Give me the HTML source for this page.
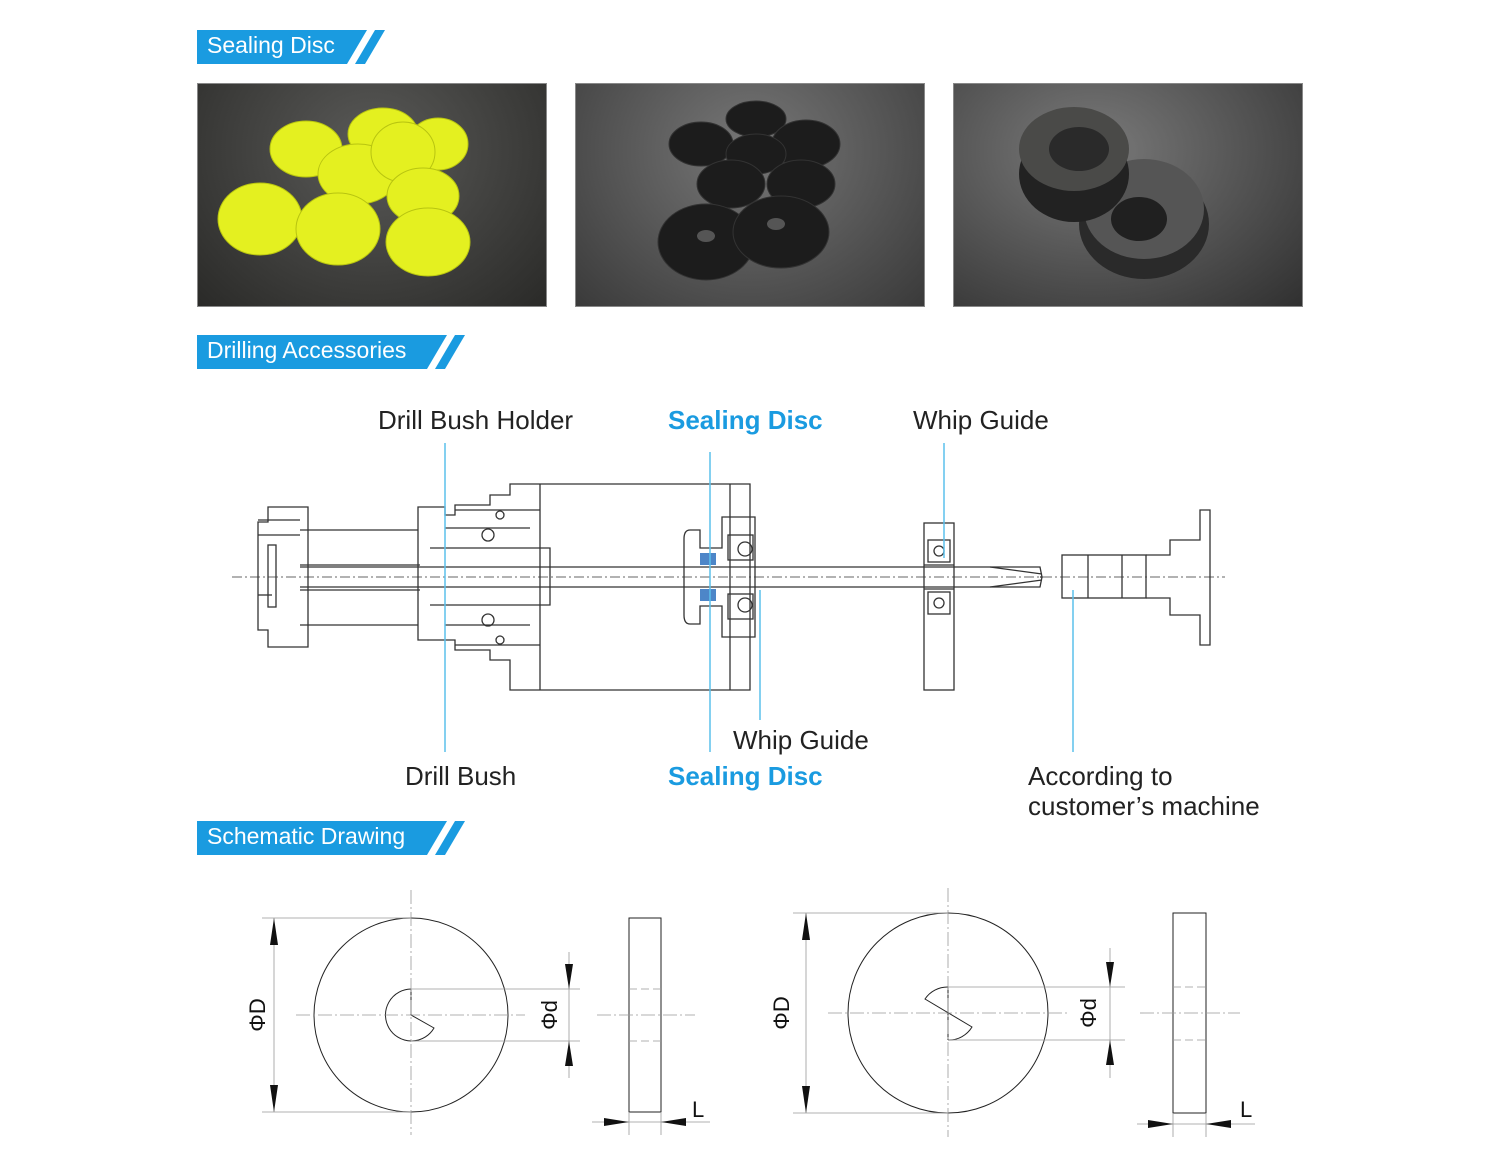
<!DOCTYPE html>
<html><head><meta charset="utf-8"><style>
body{margin:0;width:1500px;height:1168px;background:#fff;position:relative;overflow:hidden;font-family:"Liberation Sans",sans-serif}
.hdr{position:absolute;left:197px;height:34px}
.hdr span{position:absolute;left:10px;top:2px;color:#fff;font-size:23px;white-space:nowrap}
.ph{position:absolute;top:83px;width:348px;height:222px;border:1px solid #888}
.lb{position:absolute;font-size:26px;color:#222;white-space:nowrap;line-height:30px}
.bl{color:#1a9be0;font-weight:bold}
</style></head><body>

<div class="hdr" style="top:30px"><svg width="200" height="34"><polygon points="0,0 170,0 150,34 0,34" fill="#1a9be0"/><polygon points="178,0 188,0 168,34 158,34" fill="#1a9be0"/></svg><span>Sealing Disc</span></div>
<div class="hdr" style="top:335px"><svg width="280" height="34"><polygon points="0,0 250,0 230,34 0,34" fill="#1a9be0"/><polygon points="258,0 268,0 248,34 238,34" fill="#1a9be0"/></svg><span>Drilling Accessories</span></div>
<div class="hdr" style="top:821px"><svg width="280" height="34"><polygon points="0,0 250,0 230,34 0,34" fill="#1a9be0"/><polygon points="258,0 268,0 248,34 238,34" fill="#1a9be0"/></svg><span>Schematic Drawing</span></div>

<div class="ph" style="left:197px;background:radial-gradient(ellipse at 50% 30%,#5a5a58,#2a2a28)">
<svg width="348" height="222"><g fill="#e4f020" stroke="#b8c410">
<ellipse cx="108" cy="65" rx="36" ry="28"/><ellipse cx="185" cy="50" rx="35" ry="26"/><ellipse cx="240" cy="60" rx="30" ry="26"/><ellipse cx="160" cy="90" rx="40" ry="30"/><ellipse cx="205" cy="68" rx="32" ry="30"/><ellipse cx="225" cy="112" rx="36" ry="28"/><ellipse cx="62" cy="135" rx="42" ry="36"/><ellipse cx="140" cy="145" rx="42" ry="36"/><ellipse cx="230" cy="158" rx="42" ry="34"/></g></svg></div>
<div class="ph" style="left:575px;background:radial-gradient(ellipse at 50% 30%,#777,#3a3a3a)">
<svg width="348" height="222"><g fill="#1c1c1c" stroke="#333">
<ellipse cx="180" cy="35" rx="30" ry="18"/><ellipse cx="125" cy="60" rx="32" ry="22"/><ellipse cx="230" cy="60" rx="34" ry="24"/><ellipse cx="180" cy="70" rx="30" ry="20"/><ellipse cx="155" cy="100" rx="34" ry="24"/><ellipse cx="225" cy="100" rx="34" ry="24"/><ellipse cx="130" cy="158" rx="48" ry="38"/><ellipse cx="205" cy="148" rx="48" ry="36"/></g>
<g fill="#555"><ellipse cx="130" cy="152" rx="9" ry="6"/><ellipse cx="200" cy="140" rx="9" ry="6"/></g></svg></div>
<div class="ph" style="left:953px;background:radial-gradient(ellipse at 40% 30%,#7a7a7a,#303030)">
<svg width="348" height="222"><ellipse cx="190" cy="140" rx="65" ry="55" fill="#2a2a2a"/><ellipse cx="190" cy="125" rx="60" ry="50" fill="#555"/><ellipse cx="185" cy="135" rx="28" ry="22" fill="#202020"/><ellipse cx="120" cy="90" rx="55" ry="48" fill="#222"/><ellipse cx="120" cy="65" rx="55" ry="42" fill="#4a4a48"/><ellipse cx="125" cy="65" rx="30" ry="22" fill="#2a2a2a"/></svg></div>

<svg style="position:absolute;left:0;top:0" width="1500" height="1168">
<g fill="none" stroke="#333" stroke-width="1.3">
<line x1="232" y1="577" x2="1225" y2="577" stroke-dasharray="10,3,2,3" stroke-width="0.8"/>
<!-- left flange -->
<path d="M268,507 H308 V647 H268 V630 H258 V522 H268 Z"/><rect x="268" y="545" width="8" height="62"/>
<line x1="258" y1="520" x2="300" y2="520"/><line x1="258" y1="535" x2="300" y2="535"/><line x1="258" y1="595" x2="272" y2="595"/>
<!-- tube -->
<path d="M300,530 H418 M300,625 H418 M300,565 H420 M300,590 H420"/>
<!-- holder -->
<path d="M418,507 H445 V515 H455 V505 H490 V495 H510 V484 H750 V690 H510 V660 H490 V650 H455 V640 H418 Z"/>
<line x1="540" y1="484" x2="540" y2="690"/><line x1="730" y1="484" x2="730" y2="690"/>
<path d="M430,548 H550 V605 H430 M445,528 H530 M445,625 H530 M455,510 H540 M455,645 H540"/>
<circle cx="488" cy="535" r="6"/><circle cx="488" cy="620" r="6"/><circle cx="500" cy="515" r="4"/><circle cx="500" cy="640" r="4"/>
<!-- disc unit -->
<path d="M690,530 H700 V548 H722 V517 H755 V637 H722 V606 H700 V624 H690 Q684,624 684,615 V539 Q684,530 690,530 Z"/>
<rect x="728" y="535" width="25" height="25"/><rect x="728" y="594" width="25" height="25"/><circle cx="745" cy="549" r="7"/><circle cx="745" cy="605" r="7"/>
<!-- shaft -->
<path d="M300,567 H1040 L1042,577 L1040,577 M300,587 H1040 L1042,577" /><line x1="990" y1="567" x2="1042" y2="574"/><line x1="990" y1="587" x2="1042" y2="580"/>
<!-- whip guide -->
<rect x="924" y="523" width="30" height="167"/><rect x="928" y="540" width="22" height="22"/><rect x="928" y="592" width="22" height="22"/><circle cx="939" cy="551" r="5"/><circle cx="939" cy="603" r="5"/>
<line x1="924" y1="565" x2="954" y2="565"/><line x1="924" y1="589" x2="954" y2="589"/>
<!-- right -->
<rect x="1062" y="555" width="84" height="43"/><line x1="1088" y1="555" x2="1088" y2="598"/><line x1="1122" y1="555" x2="1122" y2="598"/>
<path d="M1146,555 H1170 V540 H1200 V510 H1210 V645 H1200 V615 H1170 V598 H1146"/>
</g>
<rect x="700" y="553" width="16" height="12" fill="#4d86c8"/><rect x="700" y="589" width="16" height="12" fill="#4d86c8"/>
<g stroke="#5bc0ec" stroke-width="1.5">
<line x1="445" y1="443" x2="445" y2="752"/><line x1="710" y1="452" x2="710" y2="752"/><line x1="760" y1="590" x2="760" y2="720"/><line x1="944" y1="443" x2="944" y2="558"/><line x1="1073" y1="590" x2="1073" y2="752"/>
</g>

<!-- schematic left -->
<g fill="none" stroke="#222" stroke-width="1">
<circle cx="411" cy="1015" r="97"/>
<path d="M411,989 V1015 L434,1028 A26,26 0 1 1 411,989"/>
<rect x="629" y="918" width="32" height="194"/>
<circle cx="948" cy="1013" r="100"/>
<path d="M948,987 V1040 A27,27 0 0 0 972,1026 L948,1013 L925,1000 A27,27 0 0 1 948,987" stroke-width="0"/>
<path d="M948,1013 V1040 A27,27 0 0 0 972,1026 Z M948,1013 L925,999 A27,27 0 0 1 948,987 Z" stroke-width="0"/>
<path d="M948,1040 A27,27 0 0 0 972,1027 L925,999 A27,27 0 0 1 948,987 V1040"/>
<rect x="1173" y="913" width="33" height="200"/>
</g>
<g stroke="#999" stroke-width="0.8" fill="none">
<line x1="262" y1="918" x2="411" y2="918"/><line x1="262" y1="1112" x2="411" y2="1112"/><line x1="274" y1="918" x2="274" y2="1112"/>
<line x1="411" y1="890" x2="411" y2="1135" stroke-dasharray="14,3,2,3"/><line x1="296" y1="1015" x2="525" y2="1015" stroke-dasharray="14,3,2,3"/>
<line x1="411" y1="989" x2="580" y2="989"/><line x1="411" y1="1041" x2="580" y2="1041"/><line x1="569" y1="952" x2="569" y2="1078"/>
<line x1="597" y1="1015" x2="695" y2="1015" stroke-dasharray="14,3,2,3"/><line x1="629" y1="989" x2="661" y2="989" stroke-dasharray="8,4"/><line x1="629" y1="1041" x2="661" y2="1041" stroke-dasharray="8,4"/>
<line x1="629" y1="1112" x2="629" y2="1135"/><line x1="661" y1="1112" x2="661" y2="1135"/><line x1="592" y1="1122" x2="710" y2="1122"/>
<line x1="793" y1="913" x2="948" y2="913"/><line x1="793" y1="1113" x2="948" y2="1113"/><line x1="806" y1="913" x2="806" y2="1113"/>
<line x1="948" y1="888" x2="948" y2="1137" stroke-dasharray="14,3,2,3"/><line x1="828" y1="1013" x2="1070" y2="1013" stroke-dasharray="14,3,2,3"/>
<line x1="948" y1="987" x2="1125" y2="987"/><line x1="948" y1="1040" x2="1125" y2="1040"/><line x1="1110" y1="948" x2="1110" y2="1078"/>
<line x1="1140" y1="1013" x2="1240" y2="1013" stroke-dasharray="14,3,2,3"/><line x1="1173" y1="987" x2="1206" y2="987" stroke-dasharray="8,4"/><line x1="1173" y1="1040" x2="1206" y2="1040" stroke-dasharray="8,4"/>
<line x1="1173" y1="1113" x2="1173" y2="1137"/><line x1="1206" y1="1113" x2="1206" y2="1137"/><line x1="1137" y1="1124" x2="1255" y2="1124"/>
</g>
<g fill="#111">
<polygon points="274,918 270,945 278,945"/><polygon points="274,1112 270,1085 278,1085"/>
<polygon points="569,989 565,964 573,964"/><polygon points="569,1041 565,1066 573,1066"/>
<polygon points="629,1122 604,1118 604,1126"/><polygon points="661,1122 686,1118 686,1126"/>
<polygon points="806,913 802,940 810,940"/><polygon points="806,1113 802,1086 810,1086"/>
<polygon points="1110,987 1106,962 1114,962"/><polygon points="1110,1040 1106,1065 1114,1065"/>
<polygon points="1173,1124 1148,1120 1148,1128"/><polygon points="1206,1124 1231,1120 1231,1128"/>
</g>
<g font-family="Liberation Sans,sans-serif" font-size="22" fill="#111">
<text transform="translate(265,1015) rotate(-90)" text-anchor="middle">ΦD</text>
<text transform="translate(557,1015) rotate(-90)" text-anchor="middle">Φd</text>
<text x="692" y="1117">L</text>
<text transform="translate(789,1013) rotate(-90)" text-anchor="middle">ΦD</text>
<text transform="translate(1096,1013) rotate(-90)" text-anchor="middle">Φd</text>
<text x="1240" y="1117">L</text>
</g>
</svg>

<div class="lb" style="left:378px;top:405px">Drill Bush Holder</div>
<div class="lb bl" style="left:668px;top:405px">Sealing Disc</div>
<div class="lb" style="left:913px;top:405px">Whip Guide</div>
<div class="lb" style="left:733px;top:725px">Whip Guide</div>
<div class="lb" style="left:405px;top:761px">Drill Bush</div>
<div class="lb bl" style="left:668px;top:761px">Sealing Disc</div>
<div class="lb" style="left:1028px;top:761px">According to<br>customer’s machine</div>
</body></html>
